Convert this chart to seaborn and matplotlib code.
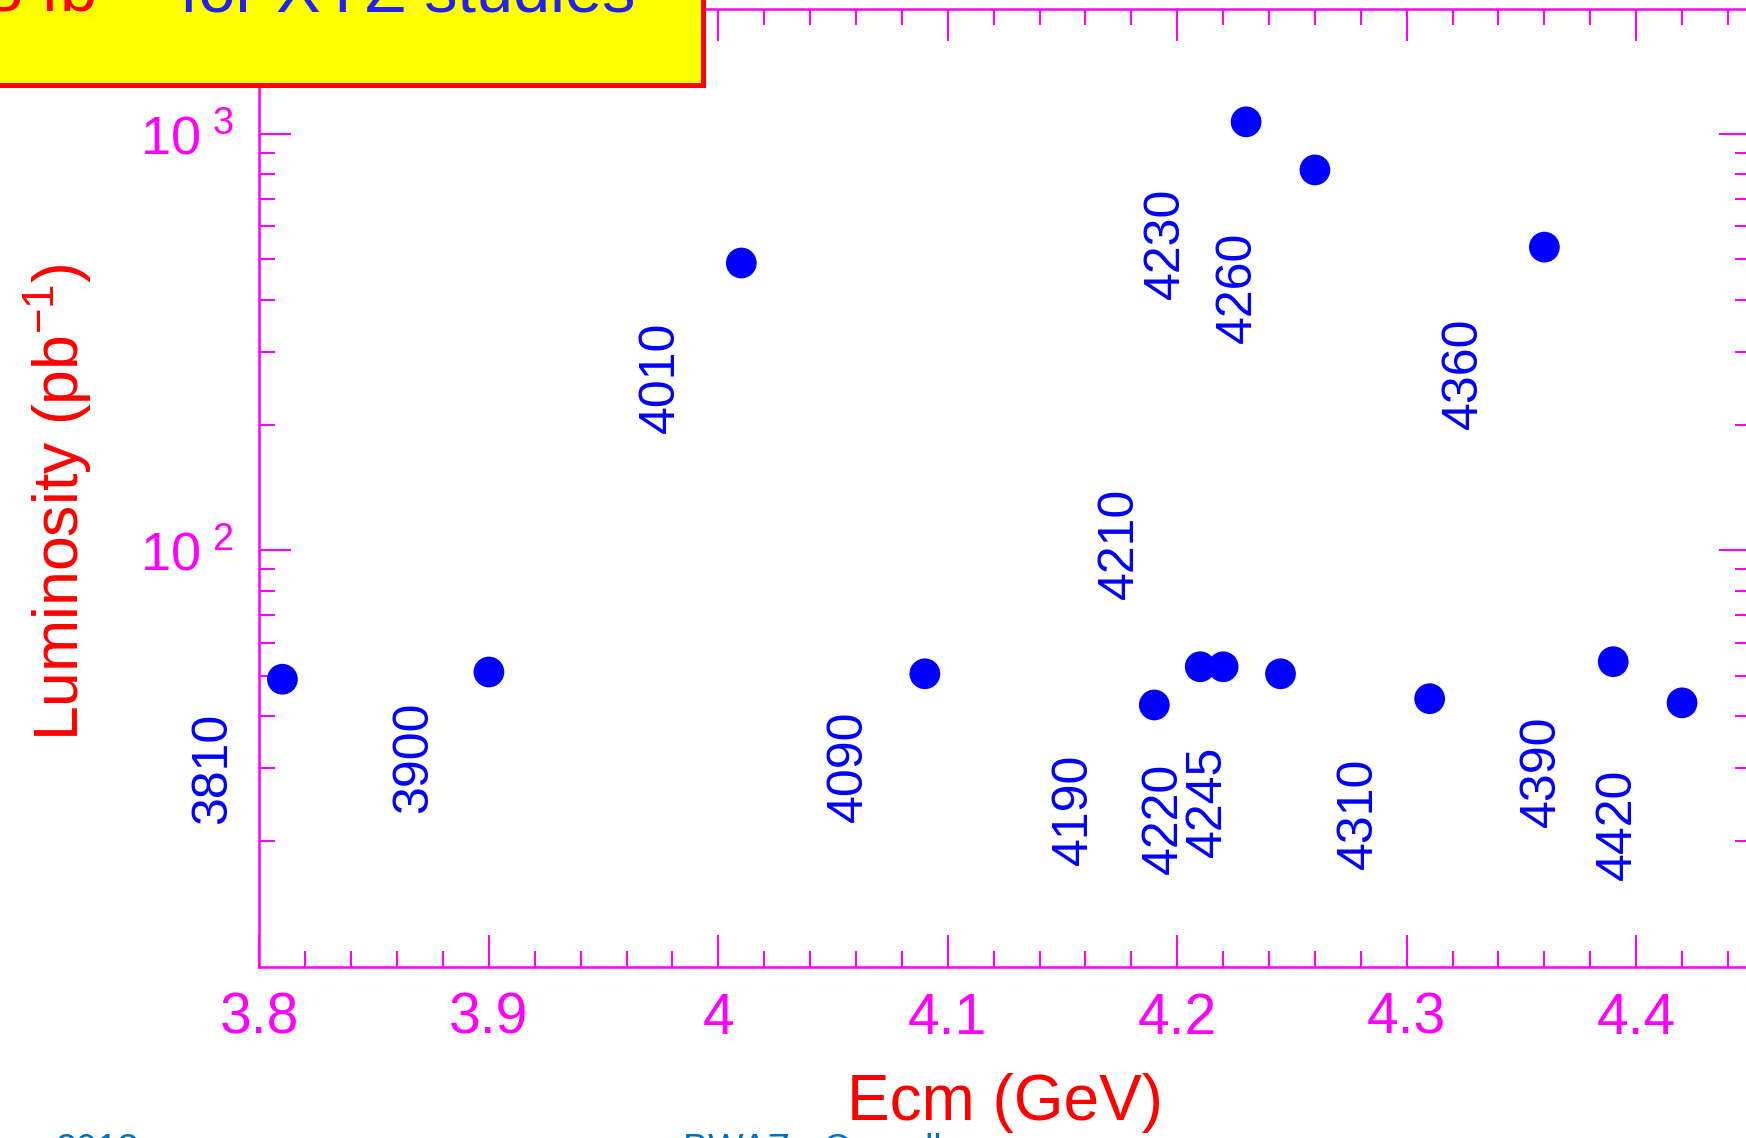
import seaborn as sns
import matplotlib.pyplot as plt
from matplotlib.patches import Rectangle

# centre-of-mass energies (GeV) and integrated luminosity (pb^-1)
ecm = [3.810, 3.900, 4.010, 4.090, 4.190, 4.210, 4.220, 4.230, 4.245, 4.260, 4.310, 4.360, 4.390, 4.420]
lumi = [49, 51, 490, 50.5, 42.5, 52.5, 52.5, 1070, 50.5, 820, 44, 535, 54, 43]

# blue energy tags (MeV) written next to the points, and where they sit
tags = ["3810", "3900", "4010", "4090", "4190", "4210", "4220",
        "4230", "4245", "4260", "4310", "4360", "4390", "4420"]
tag_x = [3.780, 3.8675, 3.975, 4.057, 4.155, 4.175, 4.194,
         4.195, 4.2135, 4.2265, 4.279, 4.325, 4.359, 4.392]
tag_y = [30, 31.8, 261, 30.3, 23.8, 104, 22.7,
         547, 24.9, 428, 23.4, 266, 29.4, 22.0]

xticks = [3.8, 3.9, 4.0, 4.1, 4.2, 4.3, 4.4]
xtick_labels = ["3.8", "3.9", "4", "4.1", "4.2", "4.3", "4.4"]
yticks = [100, 1000]
ytick_labels = [r"$10^{\ 2}$", r"$10^{\ 3}$"]

sns.set_style("white")
plt.rcParams["font.family"] = ["Liberation Sans", "DejaVu Sans"]
plt.rcParams["mathtext.default"] = "regular"

magenta = "#ff00ff"
blue = "#0000ff"

fig = plt.figure(figsize=(17.46, 11.38), dpi=100)
ax = fig.add_axes([0.1486, 0.1507, 0.8542, 0.8416])

# the data points
sns.scatterplot(x=ecm, y=lumi, ax=ax, s=490, color=blue,
                edgecolor="none", linewidth=0, zorder=3)

ax.set_yscale("log")
ax.set_xlim(3.8, 4.45)
ax.set_ylim(10, 2000)

# x ticks every 0.1 with minor every 0.02
ax.set_xticks(xticks)
ax.set_xticklabels(xtick_labels)
ax.set_xticks([3.8 + 0.02 * i for i in range(33)], minor=True)

ax.set_yticks(yticks)
ax.set_yticklabels(ytick_labels)
ax.set_yticks([m * 10 for m in range(2, 10)] + [m * 100 for m in range(2, 10)], minor=True)
ax.yaxis.set_minor_formatter(plt.NullFormatter())

ax.tick_params(which="both", direction="in", bottom=True, left=True, top=True, right=True,
               color=magenta, labelcolor=magenta, width=1.5)
ax.tick_params(which="major", length=23, pad=18)
ax.tick_params(which="minor", length=11.5)
ax.tick_params(axis="x", which="major", labelsize=41)
ax.tick_params(axis="y", which="major", labelsize=39)

for side in ax.spines.values():
    side.set_color(magenta)
    side.set_linewidth(1.8)
    side.set_visible(True)

# axis titles
ax.set_xlabel("Ecm (GeV)", color="red", fontsize=46)
ax.xaxis.set_label_coords(0.5, -0.111)
ax.set_ylabel("Luminosity (pb$^{-1}$)", color="red", fontsize=45)
ax.yaxis.set_label_coords(-0.111, 0.485)

# energy tags
for t, tx, ty in zip(tags, tag_x, tag_y):
    ax.text(tx, ty, t, rotation=90, ha="center", va="center", color=blue,
            fontsize=36, family=["Liberation Sans Narrow", "Liberation Sans"])

# yellow slide box in the top left corner (cut off by the crop)
box = Rectangle((-0.01, 1 - 84.5 / 1138), 0.01 + 702.5 / 1746, 84.5 / 1138 + 0.01,
                transform=fig.transFigure, facecolor="#ffff00", edgecolor="#ff0000",
                linewidth=3.6, zorder=10, clip_on=False)
fig.add_artist(box)
fig.text(150 / 1746, 1 - 12 / 1138, "3 fb$^{-1}$", color="#ff0000", fontsize=48,
         ha="right", va="baseline", zorder=11)
fig.text(180 / 1746, 1 - 12 / 1138, "for XYZ studies", color="#2222ee", fontsize=48,
         ha="left", va="baseline", zorder=11)

# slide footer, mostly cut off
fig.text(55 / 1746, 1 - 1133 / 1138, "2013", color="#0070c0", fontsize=27, ha="left", va="top")
fig.text(683 / 1746, 1 - 1133 / 1138, "BWAZ - Cornell", color="#0070c0", fontsize=27,
         ha="left", va="top")

fig.savefig("out.png", dpi=100)
